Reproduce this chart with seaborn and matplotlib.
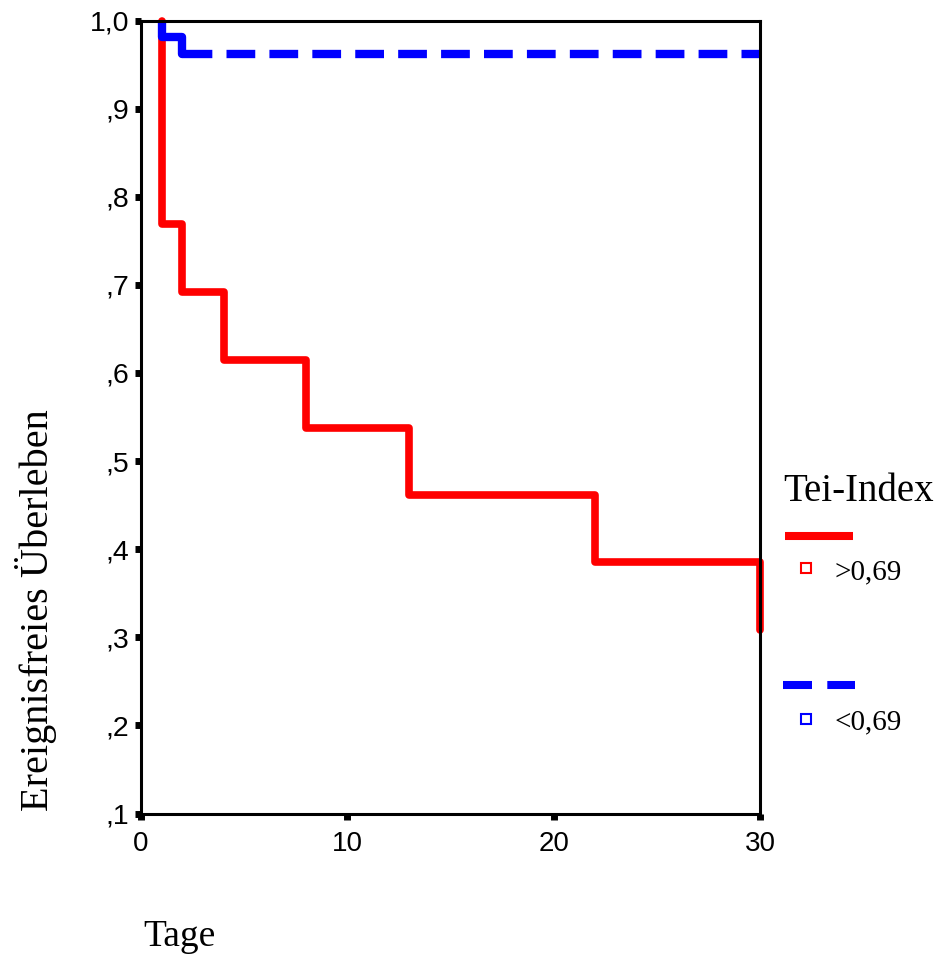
import pandas as pd
import matplotlib
matplotlib.use("Agg")
import matplotlib.pyplot as plt
from matplotlib.lines import Line2D
import seaborn as sns

# Kaplan-Meier step data (days, event-free survival)
red_days = [1, 1, 2, 4, 8, 13, 22, 30]
red_surv = [1.0, 0.769, 0.692, 0.615, 0.538, 0.462, 0.385, 0.308]
blue_days = [1, 1, 2, 30]
blue_surv = [1.0, 0.981, 0.962, 0.962]

group_labels = [">0,69", "<0,69"]
y_ticks = [0.1, 0.2, 0.3, 0.4, 0.5, 0.6, 0.7, 0.8, 0.9, 1.0]
y_ticklabels = [",1", ",2", ",3", ",4", ",5", ",6", ",7", ",8", ",9", "1,0"]
x_ticks = [0, 10, 20, 30]

red = "#ff0000"
blue = "#0000ff"
# solid through the first steps, then long dashes (like SPSS draws it)
blue_dash = (10.0, 1.7) + (3.45, 1.7) * 16

sns.set_style("white")
plt.rcParams["font.family"] = ["Liberation Sans", "DejaVu Sans"]
plt.rcParams["text.color"] = "black"
plt.rcParams["xtick.color"] = "black"
plt.rcParams["ytick.color"] = "black"
serif = ["Liberation Serif", "DejaVu Serif"]

fig = plt.figure(figsize=(9.41, 9.6), dpi=100)
ax = fig.add_axes([0.1498, 0.1526, 0.6583, 0.8260])

red_df = pd.DataFrame({"Tage": red_days, "surv": red_surv})
blue_df = pd.DataFrame({"Tage": blue_days, "surv": blue_surv})

sns.lineplot(data=red_df, x="Tage", y="surv", ax=ax, estimator=None, sort=False,
             drawstyle="steps-post", color=red, linewidth=5.5, clip_on=False)
sns.lineplot(data=blue_df, x="Tage", y="surv", ax=ax, estimator=None, sort=False,
             drawstyle="steps-post", color=blue, linewidth=6.0,
             linestyle=(0, blue_dash), clip_on=False)

ax.set_xlim(0, 30)
ax.set_ylim(0.1, 1.0)
ax.set_xticks(x_ticks)
ax.set_xticklabels([str(t) for t in x_ticks], fontsize=20)
ax.set_yticks(y_ticks)
ax.set_yticklabels(y_ticklabels, fontsize=20.5)
ax.tick_params(axis="both", direction="out", length=4.3, width=5, color="black",
               bottom=True, left=True, labelcolor="black")
ax.tick_params(axis="y", pad=4)
ax.tick_params(axis="x", pad=8)
ax.set_xlabel("")
ax.set_ylabel("")
for sp in ax.spines.values():
    sp.set_visible(True)
    sp.set_color("black")
    sp.set_linewidth(2.2)

# axis titles placed like the SPSS original
fig.text(36 / 941, 1 - 610 / 960, "Ereignisfreies Überleben", rotation=90,
         ha="center", va="center", fontsize=29, family=serif)
fig.text(143 / 941, 1 - 946 / 960, "Tage", ha="left", va="baseline",
         fontsize=27, family=serif)

# legend block on the right
fig.text(783 / 941, 1 - 492 / 960, "Tei-Index", ha="left", va="center",
         fontsize=28, family=serif)
fig.add_artist(Line2D([785 / 941, 853 / 941], [1 - 536 / 960] * 2,
                      transform=fig.transFigure, color=red, linewidth=5.8,
                      solid_capstyle="butt"))
fig.add_artist(Line2D([783 / 941, 855 / 941], [1 - 685 / 960] * 2,
                      transform=fig.transFigure, color=blue, linewidth=5.8,
                      linestyle=(0, (3.6, 1.9)), dash_capstyle="butt"))
for yy, col, lab, ty in [(568, red, group_labels[0], 572), (719, blue, group_labels[1], 722)]:
    fig.add_artist(Line2D([806 / 941], [1 - yy / 960], transform=fig.transFigure,
                          marker="s", markersize=7.5, markerfacecolor="none",
                          markeredgecolor=col, markeredgewidth=1.5, linestyle="none"))
    fig.text(835 / 941, 1 - ty / 960, lab, ha="left", va="center",
             fontsize=21, family=serif)

fig.savefig("out.png", dpi=100, facecolor="white")
